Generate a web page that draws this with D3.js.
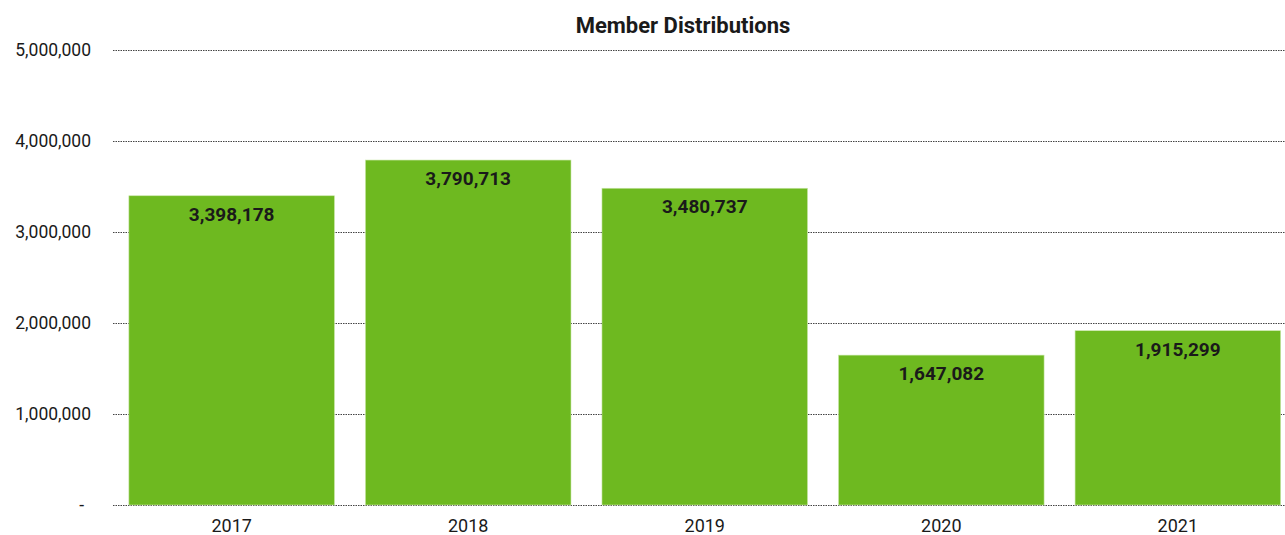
<!DOCTYPE html>
<html>
<head>
<meta charset="utf-8">
<script src="https://cdn.jsdelivr.net/npm/d3@7"></script>
<style>
  body { margin: 0; background: #fff; }
  text { font-family: Roboto, "Noto Sans", sans-serif; fill: #1a1a1a; }
</style>
</head>
<body>
<script>
// chart data
const years = ["2017", "2018", "2019", "2020", "2021"];
const distributions = [3398178, 3790713, 3480737, 1647082, 1915299];
const yTicks = [0, 1000000, 2000000, 3000000, 4000000, 5000000];

const w = 1285, h = 535;
const margin = {top: 50, right: 0, bottom: 30, left: 113};

const svg = d3.select("body").append("svg")
    .attr("width", w)
    .attr("height", h);

const y = d3.scaleLinear()
    .domain([0, 5000000])
    .range([505, 50]);

const x = d3.scaleBand()
    .domain(years)
    .range([113.5, 1296])
    .paddingInner(0.131)
    .paddingOuter(0.065);

const fmt = d3.format(",");

// gridlines
svg.append("g")
    .selectAll("line")
    .data(yTicks)
    .join("line")
    .attr("x1", margin.left)
    .attr("x2", w)
    .attr("y1", d => Math.round(y(d)) + 0.5)
    .attr("y2", d => Math.round(y(d)) + 0.5)
    .attr("stroke", "#444")
    .attr("stroke-width", 1)
    .attr("stroke-dasharray", "1.5,1");

// y labels
svg.append("g")
    .selectAll("text")
    .data(yTicks)
    .join("text")
    .attr("x", d => d == 0 ? 84 : 91)
    .attr("y", d => y(d) + 6)
    .attr("text-anchor", "end")
    .style("font-size", "17.5px")
    .text(d => d == 0 ? "-" : fmt(d));

// bars
svg.append("g")
    .selectAll("rect")
    .data(distributions)
    .join("rect")
    .attr("x", (d, i) => x(years[i]))
    .attr("y", d => y(d))
    .attr("width", x.bandwidth())
    .attr("height", d => y(0) - y(d))
    .attr("fill", "#6eb920")
    .attr("stroke", "#c9e6a8")
    .attr("stroke-width", 0.6);

// value labels
svg.append("g")
    .selectAll("text")
    .data(distributions)
    .join("text")
    .attr("x", (d, i) => x(years[i]) + x.bandwidth() / 2)
    .attr("y", d => y(d) + 25)
    .attr("text-anchor", "middle")
    .style("font-size", "19px")
    .style("font-weight", "bold")
    .text(d => fmt(d));

// x labels
svg.append("g")
    .selectAll("text")
    .data(years)
    .join("text")
    .attr("x", d => x(d) + x.bandwidth() / 2)
    .attr("y", 532)
    .attr("text-anchor", "middle")
    .style("font-size", "18px")
    .text(d => d);

// title
svg.append("text")
    .attr("x", 683)
    .attr("y", 33)
    .attr("text-anchor", "middle")
    .style("font-size", "22px")
    .style("font-weight", "bold")
    .text("Member Distributions");
</script>
</body>
</html>
